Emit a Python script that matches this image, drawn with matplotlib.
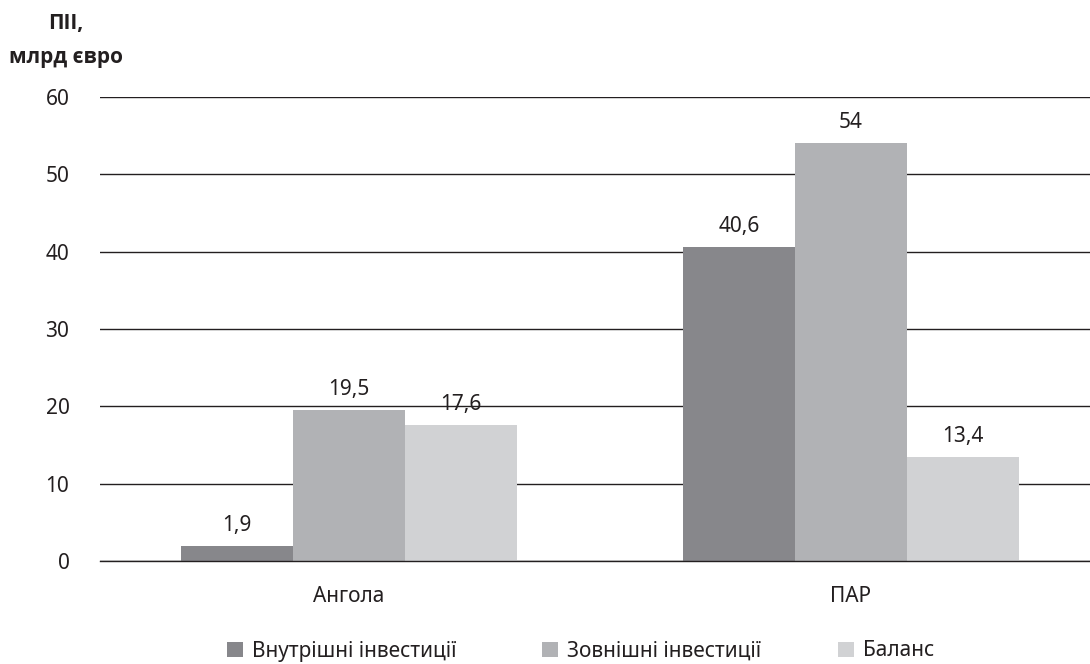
import matplotlib
matplotlib.use("Agg")
import matplotlib.pyplot as plt
from matplotlib import font_manager
import numpy as np

categories = ["Ангола", "ПАР"]
series_names = ["Внутрішні інвестиції", "Зовнішні інвестиції", "Баланс"]
inward = [1.9, 40.6]
outward = [19.5, 54]
balance = [17.6, 13.4]
value_labels = [["1,9", "40,6"], ["19,5", "54"], ["17,6", "13,4"]]
yticks = [0, 10, 20, 30, 40, 50, 60]

colors = ["#87878b", "#b1b2b5", "#d1d2d4"]
txt = '#231f20'
plt.rcParams['font.family'] = ['Noto Sans', 'DejaVu Sans']

bold_fam = None
for cand in ['Open Sans', 'Noto Sans', 'Lato']:
    fams = [f for f in font_manager.fontManager.ttflist if f.name == cand and f.weight in ('bold', 700, 600, 'semibold')]
    if fams:
        bold_fam = cand
        break
if bold_fam is None:
    bold_fam = 'DejaVu Sans'

fig = plt.figure(figsize=(10.9, 6.64), dpi=100)
ax = fig.add_axes([0.0917, 0.1551, 0.9083, 0.6988])

x = np.arange(len(categories))
w = 0.223
series = [inward, outward, balance]
handles = []
for i, (vals, c, name) in enumerate(zip(series, colors, series_names)):
    bars = ax.bar(x + (i - 1) * w, vals, width=w, color=c, label=name, zorder=3)
    handles.append(bars)
    for b, lab in zip(bars, value_labels[i]):
        ax.text(b.get_x() + b.get_width() / 2, b.get_height() + 1.95, lab,
                ha='center', va='baseline', fontsize=15, color=txt)

ax.set_xlim(-0.496, 1.476)
ax.set_ylim(0, 60)
ax.set_yticks(yticks)
ax.set_yticklabels([str(t) for t in yticks], fontsize=15, color=txt)
ax.set_xticks(x)
ax.set_xticklabels(categories, fontsize=15, color=txt)
ax.tick_params(axis='both', length=0)
ax.tick_params(axis='y', pad=22)
ax.tick_params(axis='x', pad=18)
for s in ax.spines.values():
    s.set_visible(False)
ax.yaxis.grid(True, color=txt, linewidth=1, zorder=0)
ax.set_axisbelow(True)
ax.axhline(0, color=txt, linewidth=1, zorder=4, clip_on=False)

fig.text(66 / 1090, 1 - 23 / 664, "ПІІ,", ha='center', va='center',
         fontsize=15, fontweight='bold', family=bold_fam, color=txt)
fig.text(66 / 1090, 1 - 57 / 664, "млрд євро", ha='center', va='center',
         fontsize=15, fontweight='bold', family=bold_fam, color=txt)

legend_x = [227, 542, 838]
for h, name, lx in zip(handles, series_names, legend_x):
    leg = fig.legend([h], [name], loc='center left', bbox_to_anchor=(lx / 1090, 1 - 651 / 664),
                     frameon=False, fontsize=15, handlelength=0.75, handleheight=0.75,
                     handletextpad=0.45, borderpad=0, borderaxespad=0)
    for t in leg.get_texts():
        t.set_color(txt)

fig.savefig("out.png", dpi=100)
